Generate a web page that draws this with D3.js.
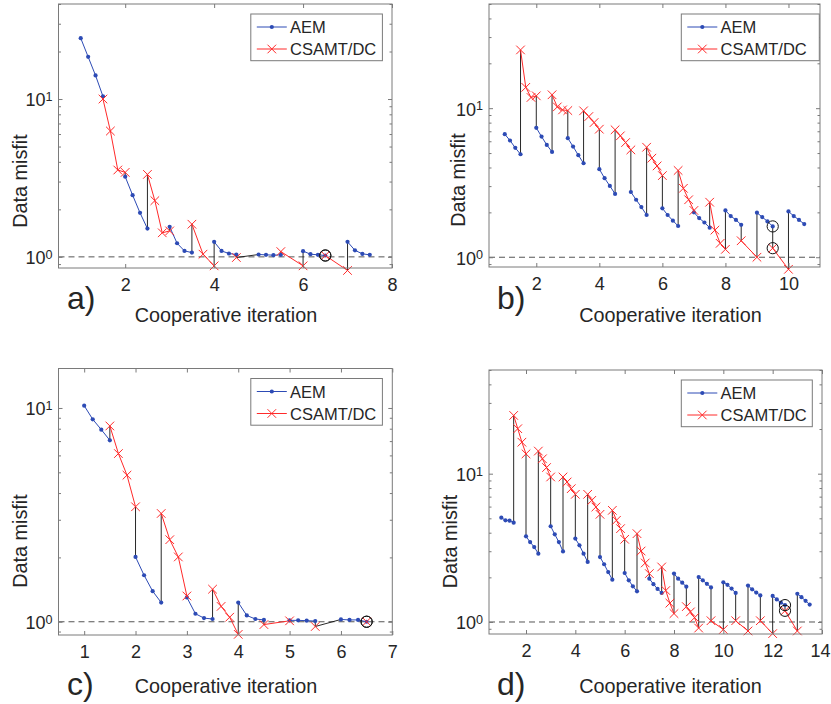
<!DOCTYPE html>
<html>
<head>
<meta charset="utf-8">
<script src="https://cdn.jsdelivr.net/npm/d3@7"></script>
<style>
  body { margin: 0; background: #fff; }
  svg { display: block; }
  text { font-family: "Liberation Sans", Arial, Helvetica, sans-serif; fill: #262626; }
</style>
</head>
<body>
<svg id="fig" width="831" height="704"></svg>
<script>
// ---------------------------------------------------------------
// Misfit histories of the cooperative AEM / CSAMT-DC inversion.
// Each stage spans half a cooperative iteration; the inner
// iterations of a stage are spread evenly over that half step.
// ---------------------------------------------------------------

// Panel a)
const aAemStart = [1, 2, 3, 4, 5, 6, 7];
const aAemMisfit = [
  [24.3, 18.5, 14.1, 10.4],
  [3.22, 2.46, 1.90, 1.51],
  [1.55, 1.22, 1.09, 1.065],
  [1.245, 1.09, 1.05, 1.035],
  [1.035, 1.03, 1.025, 1.03],
  [1.087, 1.04, 1.03, 1.02],
  [1.245, 1.10, 1.045, 1.03]
];
const aCsStart = [1.5, 2.5, 3.5, 4.5, 5.5, 6.5];
const aCsMisfit = [
  [10.0, 6.27, 3.55, 3.43],
  [3.33, 2.27, 1.42, 1.46],
  [1.61, 1.04, 0.877],
  [0.99],
  [1.08, 0.877],
  [1.02, 0.82]
];
const aMarked = [6.5];
const aTicks = [2, 4, 6, 8];

// Panel b)
const bAemStart = [1, 2, 3, 4, 5, 6, 7, 8, 9, 10];
const bAemMisfit = [
  [6.69, 6.07, 5.42, 4.91],
  [7.38, 6.45, 5.67, 5.09],
  [6.29, 5.53, 4.84, 4.27],
  [3.90, 3.39, 3.01, 2.66],
  [2.74, 2.43, 2.17, 1.92],
  [2.13, 1.92, 1.76, 1.62],
  [2.00, 1.83, 1.71, 1.58],
  [2.06, 1.89, 1.78, 1.65],
  [1.99, 1.86, 1.74, 1.61],
  [2.03, 1.89, 1.78, 1.67]
];
const bCsStart = [1.5, 2.5, 3.5, 4.5, 5.5, 6.5, 7.5, 8.5, 9.5];
const bCsMisfit = [
  [24.6, 13.8, 11.8, 12.1],
  [12.3, 10.2, 9.74, 9.64],
  [9.6, 8.79, 8.01, 7.23],
  [7.16, 6.52, 5.88, 5.25],
  [5.47, 4.62, 4.10, 3.53],
  [3.82, 2.90, 2.43, 2.06],
  [2.34, 1.52, 1.24, 1.13],
  [1.29, 1.0],
  [1.15, 0.83]
];
const bMarked = [9.5];
const bTicks = [2, 4, 6, 8, 10];

// Panel c)
const cAemStart = [1, 2, 3, 4, 5, 6];
const cAemMisfit = [
  [10.25, 8.85, 7.92, 7.06],
  [2.01, 1.65, 1.39, 1.23],
  [1.30, 1.09, 1.04, 1.03],
  [1.23, 1.07, 1.03, 1.02],
  [1.015, 1.015, 1.012, 1.007],
  [1.025, 1.02, 1.02, 1.0]
];
const cCsStart = [1.5, 2.5, 3.5, 4.5, 5.5, 6.5];
const cCsMisfit = [
  [8.24, 6.12, 4.85, 3.45],
  [3.21, 2.42, 2.01, 1.32],
  [1.42, 1.18, 1.05, 0.873],
  [0.97, 1.01],
  [0.95],
  [1.0]
];
const cMarked = [6.5];
const cTicks = [1, 2, 3, 4, 5, 6, 7];

// Panel d)
const dAemStart = [1, 2, 3, 4, 5, 6, 7, 8, 9, 10, 11, 12, 13];
const dAemMisfit = [
  [5.05, 4.85, 4.82, 4.67],
  [3.78, 3.46, 3.20, 2.89],
  [4.42, 3.90, 3.46, 2.99],
  [3.65, 3.29, 2.89, 2.54],
  [2.74, 2.45, 2.17, 1.93],
  [2.14, 1.91, 1.74, 1.61],
  [1.96, 1.80, 1.67, 1.57],
  [2.12, 1.96, 1.84, 1.73],
  [2.01, 1.91, 1.81, 1.71],
  [1.85, 1.78, 1.68, 1.57],
  [1.76, 1.66, 1.58, 1.51],
  [1.50, 1.42, 1.35, 1.30],
  [1.55, 1.47, 1.39, 1.31]
];
const dCsStart = [1.5, 2.5, 3.5, 4.5, 5.5, 6.5, 7.5, 8.5, 9.5, 10.5, 11.5, 12.5];
const dCsMisfit = [
  [24.7, 20.1, 16.3, 13.6],
  [14.2, 12.6, 11.0, 9.5],
  [9.5, 8.79, 7.92, 7.26],
  [7.26, 6.61, 5.96, 5.32],
  [5.66, 4.85, 4.26, 3.61],
  [3.94, 3.01, 2.50, 2.12],
  [2.35, 1.63, 1.34, 1.14],
  [1.27, 1.17, 1.07, 0.91],
  [1.02, 0.89],
  [1.02, 0.87],
  [1.02, 0.835],
  [1.19, 0.87]
];
const dMarked = [12.5];
const dTicks = [2, 4, 6, 8, 10, 12, 14];

const seriesNames = ["AEM", "CSAMT/DC"];
const targetMisfit = 1;

// ---------------------------------------------------------------
// Layout of the four axes
// ---------------------------------------------------------------
const panels = [
  { tag: "a)", aemStart: aAemStart, aem: aAemMisfit, csStart: aCsStart, cs: aCsMisfit, marked: aMarked, ticks: aTicks,
    xlim: [0.5, 8], ylim: [0.85, 40], left: 58.5, right: 392, top: 4, bottom: 268,
    ylabX: 26.5, ylabY: 181, xlabX: 226, xlabY: 322, tagX: 67, tagY: 309, legW: 131.6 },
  { tag: "b)", aemStart: bAemStart, aem: bAemMisfit, csStart: bCsStart, cs: bCsMisfit, marked: bMarked, ticks: bTicks,
    xlim: [0.5, 11], ylim: [0.86, 50], left: 489, right: 820, top: 4, bottom: 267,
    ylabX: 464.5, ylabY: 180, xlabX: 670.5, xlabY: 322, tagX: 497, tagY: 309, legW: 138 },
  { tag: "c)", aemStart: cAemStart, aem: cAemMisfit, csStart: cCsStart, cs: cCsMisfit, marked: cMarked, ticks: cTicks,
    xlim: [0.5, 7], ylim: [0.867, 15.3], left: 58.5, right: 392.3, top: 368.5, bottom: 635,
    ylabX: 26.5, ylabY: 541, xlabX: 226, xlabY: 693, tagX: 67, tagY: 695, legW: 131.6 },
  { tag: "d)", aemStart: dAemStart, aem: dAemMisfit, csStart: dCsStart, cs: dCsMisfit, marked: dMarked, ticks: dTicks,
    xlim: [0.5, 14], ylim: [0.83, 50], left: 489, right: 822, top: 370, bottom: 634,
    ylabX: 457, ylabY: 541.5, xlabX: 670.5, xlabY: 693, tagX: 497, tagY: 695, legW: 131 }
];

const AEM_COLOR = "#2d4bb5";
const CS_COLOR = "#ff2a2a";
const AXIS_COLOR = "#7a7a7a";
const TICK_FONT = 18;
const LABEL_FONT = 19.8;
const LEGEND_FONT = 16.5;
const STAGE_SPAN = 0.5;
const FIG_WIDTH = 831;

const svg = d3.select("#fig");

// Inner-iteration positions of one stage
function stagePoints(start, values) {
  const n = values.length;
  return values.map((v, i) => ({ x: n > 1 ? start + i * STAGE_SPAN / (n - 1) : start, y: v }));
}

function xMark(g, cx, cy, r) {
  g.append("path")
    .attr("d", `M${cx - r},${cy - r}L${cx + r},${cy + r}M${cx - r},${cy + r}L${cx + r},${cy - r}`)
    .attr("stroke", CS_COLOR).attr("stroke-width", 1).attr("fill", "none");
}

function drawPanel(p) {
  const x = d3.scaleLinear().domain(p.xlim).range([p.left, p.right]);
  const y = d3.scaleLog().domain(p.ylim).range([p.bottom, p.top]);
  const g = svg.append("g");

  g.append("rect").attr("x", p.left).attr("y", p.top)
    .attr("width", p.right - p.left).attr("height", p.bottom - p.top).attr("fill", "#fff");

  // target misfit
  g.append("line").attr("x1", p.left).attr("x2", p.right)
    .attr("y1", y(targetMisfit)).attr("y2", y(targetMisfit))
    .attr("stroke", "#555").attr("stroke-width", 1).attr("stroke-dasharray", "6,4");

  // stages in order of iteration
  const stages = [];
  p.aemStart.forEach((s, i) => stages.push({ kind: "aem", start: s, pts: stagePoints(s, p.aem[i]) }));
  p.csStart.forEach((s, i) => stages.push({ kind: "cs", start: s, pts: stagePoints(s, p.cs[i]) }));
  stages.sort((u, v) => u.start - v.start || (u.kind === "aem" ? -1 : 1));

  // hand-over between methods
  for (let i = 0; i < stages.length - 1; i++) {
    const a = stages[i].pts[stages[i].pts.length - 1];
    const b = stages[i + 1].pts[0];
    g.append("line").attr("x1", x(a.x)).attr("y1", y(a.y)).attr("x2", x(b.x)).attr("y2", y(b.y))
      .attr("stroke", "#111").attr("stroke-width", 0.9);
  }

  const line = d3.line().x(d => x(d.x)).y(d => y(d.y));
  stages.forEach(st => {
    const col = st.kind === "aem" ? AEM_COLOR : CS_COLOR;
    g.append("path").datum(st.pts).attr("d", line)
      .attr("fill", "none").attr("stroke", col).attr("stroke-width", 1);
  });
  stages.filter(st => st.kind === "aem").forEach(st => {
    g.selectAll(null).data(st.pts).enter().append("circle")
      .attr("cx", d => x(d.x)).attr("cy", d => y(d.y)).attr("r", 2.1).attr("fill", AEM_COLOR);
  });
  stages.filter(st => st.kind === "cs").forEach(st => {
    st.pts.forEach(d => xMark(g, x(d.x), y(d.y), 4.3));
  });

  // selected models
  p.marked.forEach(m => {
    const ends = [];
    stages.forEach(st => {
      if (st.kind === "aem") { const q = st.pts[st.pts.length - 1]; if (Math.abs(q.x - m) < 1e-6) ends.push(q); }
      else if (Math.abs(st.start - m) < 1e-6) ends.push(st.pts[0]);
    });
    ends.forEach(q => g.append("circle").attr("cx", x(q.x)).attr("cy", y(q.y)).attr("r", 5.6)
      .attr("fill", "none").attr("stroke", "#111").attr("stroke-width", 1));
  });

  // axes (ticks pointing inwards on all four sides)
  const lo = Math.floor(Math.log10(p.ylim[0])), hi = Math.ceil(Math.log10(p.ylim[1]));
  const majors = [], minors = [];
  for (let k = lo; k <= hi; k++) {
    for (let m = 1; m <= 9; m++) {
      const v = m * Math.pow(10, k);
      if (v < p.ylim[0] || v > p.ylim[1]) continue;
      (m === 1 ? majors : minors).push(v);
    }
  }

  const styleAxis = sel => {
    sel.select(".domain").remove();
    sel.selectAll(".tick line").attr("stroke", AXIS_COLOR);
  };

  const xb = g.append("g").attr("transform", `translate(0,${p.bottom})`)
    .call(d3.axisBottom(x).tickValues(p.ticks).tickSizeInner(-4).tickSizeOuter(0).tickPadding(10.2).tickFormat(d3.format("d")))
    .call(styleAxis);
  xb.selectAll(".tick text").attr("font-size", TICK_FONT).attr("font-family", null).attr("fill", "#262626")
    .each(function (d) {
      // keep the last label inside the figure
      const box = this.getBBox();
      const over = x(d) + box.width / 2 - (FIG_WIDTH - 1);
      if (over > 0) d3.select(this).attr("x", -over);
    });
  g.append("g").attr("transform", `translate(0,${p.top})`)
    .call(d3.axisTop(x).tickValues(p.ticks).tickSizeInner(-4).tickSizeOuter(0).tickFormat(""))
    .call(styleAxis);

  const yl = g.append("g").attr("transform", `translate(${p.left},0)`)
    .call(d3.axisLeft(y).tickValues(majors).tickSizeInner(-4).tickSizeOuter(0).tickPadding(6).tickFormat(""))
    .call(styleAxis);
  yl.selectAll(".tick text").each(function (d) {
    const t = d3.select(this).attr("font-size", TICK_FONT).attr("font-family", null)
      .attr("fill", "#262626").attr("dy", "0.38em");
    t.append("tspan").text("10");
    t.append("tspan").attr("dy", "-0.42em").attr("font-size", 12.6).text(String(Math.round(Math.log10(d))));
  });
  g.append("g").attr("transform", `translate(${p.left},0)`)
    .call(d3.axisLeft(y).tickValues(minors).tickSizeInner(-2.5).tickSizeOuter(0).tickFormat(""))
    .call(styleAxis);
  g.append("g").attr("transform", `translate(${p.right},0)`)
    .call(d3.axisRight(y).tickValues(majors).tickSizeInner(-4).tickSizeOuter(0).tickFormat(""))
    .call(styleAxis);
  g.append("g").attr("transform", `translate(${p.right},0)`)
    .call(d3.axisRight(y).tickValues(minors).tickSizeInner(-2.5).tickSizeOuter(0).tickFormat(""))
    .call(styleAxis);

  g.append("rect").attr("x", p.left).attr("y", p.top)
    .attr("width", p.right - p.left).attr("height", p.bottom - p.top)
    .attr("fill", "none").attr("stroke", AXIS_COLOR).attr("stroke-width", 1);

  // labels
  g.append("text").attr("transform", `translate(${p.ylabX},${p.ylabY}) rotate(-90)`)
    .attr("text-anchor", "middle").attr("font-size", LABEL_FONT).text("Data misfit");
  g.append("text").attr("x", p.xlabX).attr("y", p.xlabY)
    .attr("text-anchor", "middle").attr("font-size", LABEL_FONT).text("Cooperative iteration");
  g.append("text").attr("x", p.tagX).attr("y", p.tagY)
    .attr("font-size", 32).text(p.tag);

  // legend
  const lx = p.left + 192.3, ly = p.top + 10, lw = p.legW, lh = 46.7;
  const leg = g.append("g");
  leg.append("rect").attr("x", lx).attr("y", ly).attr("width", lw).attr("height", lh)
    .attr("fill", "#fff").attr("stroke", AXIS_COLOR).attr("stroke-width", 1);
  const rows = [ly + 13, ly + 35];
  leg.append("line").attr("x1", lx + 6).attr("x2", lx + 36).attr("y1", rows[0]).attr("y2", rows[0])
    .attr("stroke", AEM_COLOR).attr("stroke-width", 1);
  leg.append("circle").attr("cx", lx + 21).attr("cy", rows[0]).attr("r", 2.1).attr("fill", AEM_COLOR);
  leg.append("line").attr("x1", lx + 6).attr("x2", lx + 36).attr("y1", rows[1]).attr("y2", rows[1])
    .attr("stroke", CS_COLOR).attr("stroke-width", 1);
  xMark(leg, lx + 21, rows[1], 4.3);
  seriesNames.forEach((name, i) => {
    leg.append("text").attr("x", lx + 39.3).attr("y", rows[i] + 6).attr("font-size", LEGEND_FONT).text(name);
  });
}

panels.forEach(drawPanel);
</script>
</body>
</html>
